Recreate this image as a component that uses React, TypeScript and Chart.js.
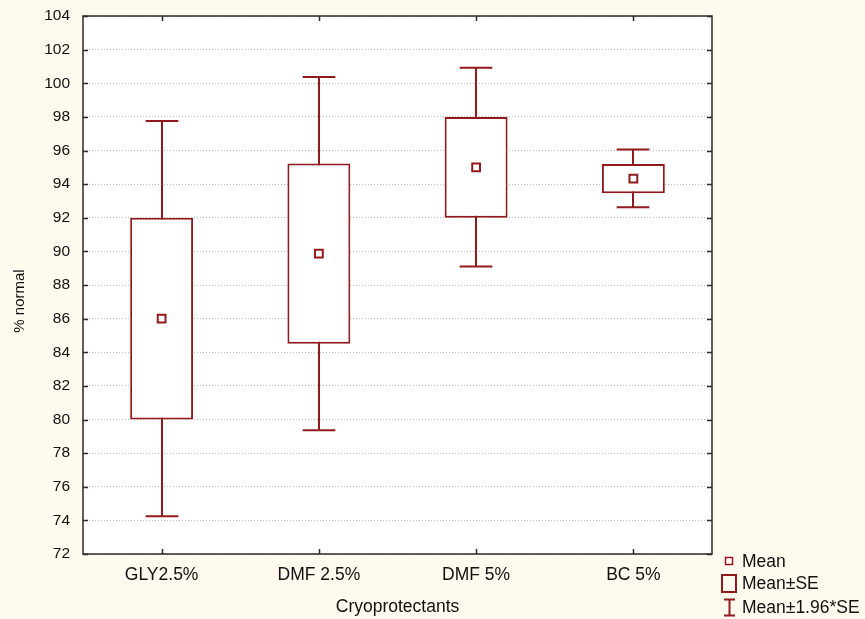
import React, { useEffect, useRef } from "react";
import { Chart, registerables } from "chart.js";

Chart.register(...registerables);

// ---- data ----
const categories = ["GLY2.5%", "DMF 2.5%", "DMF 5%", "BC 5%"];
const means = [86.0, 89.87, 95.0, 94.33];
const seLow = [80.0, 84.51, 92.0, 93.46];
const seHigh = [92.0, 95.22, 98.0, 95.2];
const ciLow = [74.24, 79.36, 89.1, 92.63];
const ciHigh = [97.76, 100.37, 100.92, 96.06];
const yMin = 72;
const yMax = 104;
const yStep = 2;
const legendLabels = ["Mean", "Mean±SE", "Mean±1.96*SE"];
const xTitle = "Cryoprotectants";
const yTitle = "% normal";

const RED = "#921a1d";
const CREAM = "#fff9ee";
const FONT = "'Liberation Sans', Arial, sans-serif";

export default function App() {
  const ref = useRef<HTMLCanvasElement>(null);

  useEffect(() => {
    const canvas = ref.current;
    if (!canvas) return;

    const plugin = {
      id: "statisticaLook",
      beforeDraw(chart: any) {
        const { ctx, chartArea: a, width, height } = chart;
        ctx.save();
        ctx.fillStyle = CREAM;
        ctx.fillRect(0, 0, width, height);
        ctx.fillStyle = "#ffffff";
        ctx.fillRect(a.left, a.top, a.right - a.left, a.bottom - a.top);
        ctx.restore();
      },
      beforeDatasetsDraw(chart: any) {
        const { ctx } = chart;
        const xs = chart.scales.x;
        const ys = chart.scales.y;
        const meta = chart.getDatasetMeta(0);
        ctx.save();
        ctx.strokeStyle = RED;
        ctx.lineWidth = 2;
        categories.forEach((_, i) => {
          const x = Math.round(xs.getPixelForValue(i));
          const bw = meta.data[i] ? (meta.data[i] as any).width : 60;
          const half = bw * 0.26;
          const yTop = ys.getPixelForValue(ciHigh[i]);
          const yBot = ys.getPixelForValue(ciLow[i]);
          ctx.beginPath();
          ctx.moveTo(x, yTop);
          ctx.lineTo(x, yBot);
          ctx.moveTo(x - half, yTop);
          ctx.lineTo(x + half, yTop);
          ctx.moveTo(x - half, yBot);
          ctx.lineTo(x + half, yBot);
          ctx.stroke();
        });
        ctx.restore();
      },
      afterDraw(chart: any) {
        const { ctx, chartArea: a } = chart;
        const xs = chart.scales.x;
        const ys = chart.scales.y;
        ctx.save();
        // plot border
        ctx.strokeStyle = "#2a2a2a";
        ctx.lineWidth = 1.5;
        ctx.strokeRect(a.left, a.top, a.right - a.left, a.bottom - a.top);
        // inward ticks
        ctx.lineWidth = 1.5;
        ctx.beginPath();
        ys.ticks.forEach((t: any) => {
          const y = Math.round(ys.getPixelForValue(t.value)) + 0.5;
          ctx.moveTo(a.left, y);
          ctx.lineTo(a.left + 5, y);
          ctx.moveTo(a.right, y);
          ctx.lineTo(a.right - 5, y);
        });
        categories.forEach((_, i) => {
          const x = Math.round(xs.getPixelForValue(i)) + 0.5;
          ctx.moveTo(x, a.bottom);
          ctx.lineTo(x, a.bottom - 5);
          ctx.moveTo(x, a.top);
          ctx.lineTo(x, a.top + 5);
        });
        ctx.stroke();

        // y axis title (placed slightly below axis centre, as in the original)
        ctx.save();
        ctx.translate(20, (a.top + a.bottom) / 2 + 16);
        ctx.rotate(-Math.PI / 2);
        ctx.fillStyle = "#111";
        ctx.font = `15px ${FONT}`;
        ctx.textAlign = "center";
        ctx.textBaseline = "middle";
        ctx.fillText(yTitle, 0, 0);
        ctx.restore();

        // legend
        const lx = a.right + 17;
        const rows = [561, 583.5, 607];
        ctx.strokeStyle = RED;
        ctx.fillStyle = "#ffffff";
        // mean icon
        ctx.lineWidth = 1.5;
        ctx.fillRect(lx - 3.5, rows[0] - 3.5, 7, 7);
        ctx.strokeRect(lx - 3.5, rows[0] - 3.5, 7, 7);
        // box icon
        ctx.lineWidth = 2;
        ctx.strokeRect(lx - 7, rows[1] - 8.5, 14, 17);
        // whisker icon
        ctx.beginPath();
        ctx.moveTo(lx + 0.5, rows[2] - 7.5);
        ctx.lineTo(lx + 0.5, rows[2] + 8.5);
        ctx.moveTo(lx - 5, rows[2] - 7.5);
        ctx.lineTo(lx + 6, rows[2] - 7.5);
        ctx.moveTo(lx - 5, rows[2] + 8.5);
        ctx.lineTo(lx + 6, rows[2] + 8.5);
        ctx.stroke();
        ctx.fillStyle = "#111";
        ctx.font = `17.5px ${FONT}`;
        ctx.textBaseline = "middle";
        ctx.textAlign = "left";
        legendLabels.forEach((l, i) => {
          ctx.fillText(l, lx + 13, rows[i] + 1);
        });
        ctx.restore();
      },
    };

    const chart = new Chart(canvas, {
      type: "bar",
      data: {
        labels: categories,
        datasets: [
          {
            type: "bar",
            label: "Mean±SE",
            data: categories.map((_, i) => [seLow[i], seHigh[i]]) as any,
            backgroundColor: "#ffffff",
            borderColor: RED,
            borderWidth: 2,
            borderSkipped: false,
            barPercentage: 0.4,
            categoryPercentage: 1,
            order: 2,
          } as any,
          {
            type: "line",
            label: "Mean",
            data: means,
            showLine: false,
            pointStyle: "rect",
            pointRadius: 5.5,
            pointBorderWidth: 2,
            pointBackgroundColor: "#ffffff",
            pointBorderColor: RED,
            order: 1,
          } as any,
        ],
      },
      options: {
        responsive: false,
        animation: false,
        layout: { autoPadding: false, padding: { top: 16, right: 153, left: 0, bottom: 0 } },
        plugins: {
          legend: { display: false },
          tooltip: { enabled: false },
        },
        scales: {
          x: {
            type: "category",
            offset: true,
            grid: { display: false, drawTicks: false },
            border: { display: false },
            ticks: {
              color: "#111",
              font: { family: FONT, size: 17.5 },
              padding: 11,
              maxRotation: 0,
            },
            title: {
              display: true,
              text: xTitle,
              color: "#111",
              font: { family: FONT, size: 17.5 },
              padding: { top: 4, bottom: 1 },
            },
            afterFit(scale: any) {
              scale.height = 65;
              scale.paddingLeft = 0;
              scale.paddingRight = 0;
            },
          },
          y: {
            min: yMin,
            max: yMax,
            grid: { color: "#bdbdbd", drawTicks: false, lineWidth: 1 },
            border: { display: false, dash: [1, 2] },
            ticks: {
              stepSize: yStep,
              color: "#111",
              font: { family: FONT, size: 15.5 },
              padding: 13,
            },
            title: { display: false },
            afterFit(scale: any) {
              scale.width = 83;
              scale.paddingTop = 0;
              scale.paddingBottom = 0;
            },
          },
        },
      },
      plugins: [plugin],
    } as any);

    return () => chart.destroy();
  }, []);

  return (
    <div style={{ position: "fixed", left: 0, top: 0, width: 865, height: 619 }}>
      <canvas ref={ref} width={865} height={619} style={{ display: "block" }} />
    </div>
  );
}
